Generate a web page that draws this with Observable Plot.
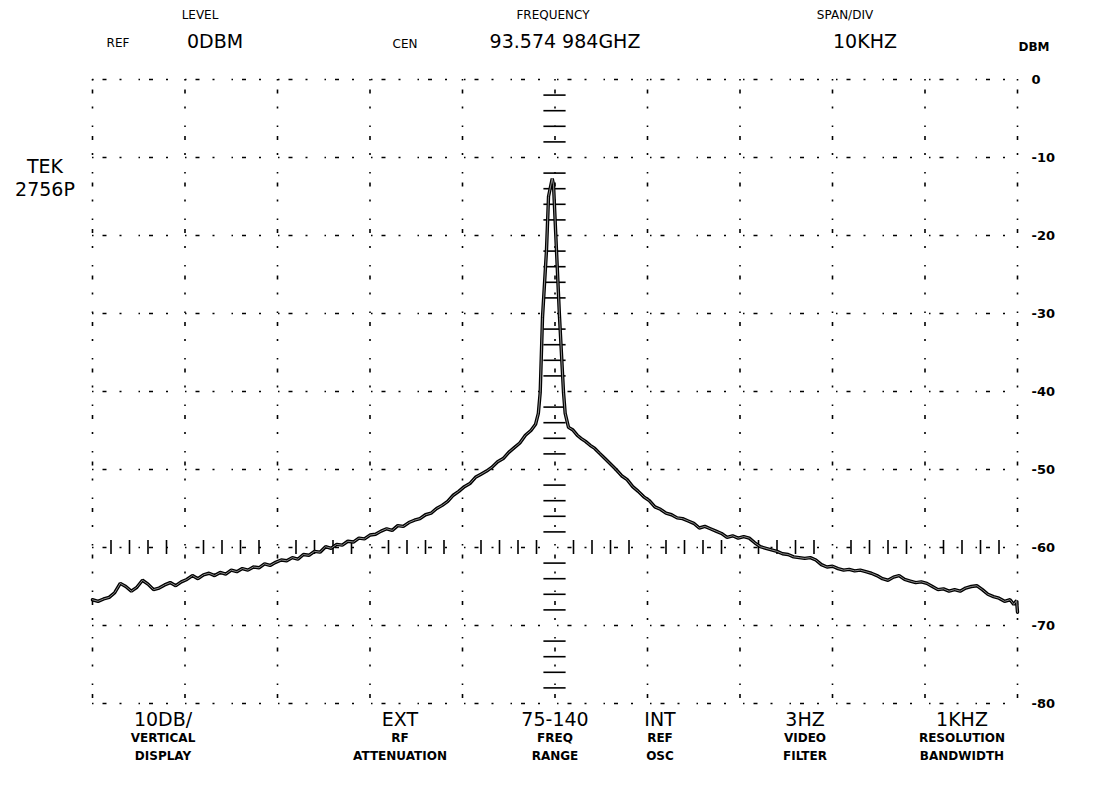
<!DOCTYPE html>
<html><head><meta charset="utf-8">
<script src="https://cdn.jsdelivr.net/npm/d3@7"></script>
<script src="https://cdn.jsdelivr.net/npm/@observablehq/plot@0.6"></script>
<style>
body{margin:0;background:#fff;}
#wrap{position:relative;width:1094px;height:785px;font-family:"DejaVu Sans",sans-serif;color:#000;overflow:hidden;}
#wrap svg{position:absolute;left:0;top:0;}
.t{position:absolute;transform:translate(-50%,-50%);white-space:nowrap;line-height:1;}
.s{font-size:12px;}
.b{font-size:12px;font-weight:bold;}
.l{font-size:19px;}
g[aria-label="y-axis tick label"] text{font-weight:bold;}
</style></head><body><div id="wrap"></div>
<script>
// ---- data ----
const gridFreq = [-50,-40,-30,-20,-10,0,10,20,30,40,50];          // kHz offset from centre
const gridDb = [0,-10,-20,-30,-40,-50,-60,-70,-80];               // dBm
const minorDb = [-2,-4,-6,-8,-12,-14,-16,-18,-22,-24,-26,-28,-32,-34,-36,-38,-42,-44,-46,-48,-52,-54,-56,-58,-62,-64,-66,-68,-72,-74,-76,-78];
const minorFreq = [-48,-46,-44,-42,-38,-36,-34,-32,-28,-26,-24,-22,-18,-16,-14,-12,-8,-6,-4,-2,2,4,6,8,12,14,16,18,22,24,26,28,32,34,36,38,42,44,46,48];
const dbLabels = [0,-10,-20,-30,-40,-50,-60,-70,-80];
// trace: [kHz offset, dBm]
const trace = [
[-50.0,-66.7],[-49.4,-66.9],[-48.8,-66.6],[-48.2,-66.4],[-47.6,-65.8],[-47.0,-64.6],[-46.4,-65.0],[-45.8,-65.6],
[-45.2,-65.1],[-44.6,-64.2],[-44.0,-64.7],[-43.4,-65.4],[-42.8,-65.2],[-42.2,-64.8],[-41.6,-64.5],[-41.0,-64.9],
[-40.4,-64.4],[-39.8,-64.1],[-39.2,-63.6],[-38.6,-64.0],[-38.0,-63.5],[-37.4,-63.3],[-36.8,-63.6],[-36.2,-63.2],
[-35.6,-63.4],[-35.0,-62.9],[-34.4,-63.1],[-33.8,-62.7],[-33.2,-62.9],[-32.6,-62.5],[-32.0,-62.6],[-31.4,-62.1],
[-30.8,-62.3],[-30.2,-61.9],[-29.6,-61.6],[-29.0,-61.7],[-28.4,-61.3],[-27.8,-61.5],[-27.2,-60.9],[-26.6,-61.0],
[-26.0,-60.5],[-25.4,-60.6],[-24.8,-59.9],[-24.2,-60.1],[-23.6,-59.6],[-23.0,-59.7],[-22.4,-59.2],[-21.8,-59.3],
[-21.2,-58.8],[-20.6,-58.9],[-20.0,-58.4],[-19.4,-58.3],[-18.8,-57.9],[-18.2,-57.6],[-17.6,-57.8],[-17.0,-57.2],
[-16.4,-57.3],[-15.8,-56.8],[-15.2,-56.5],[-14.6,-56.3],[-14.0,-55.8],[-13.4,-55.6],[-12.8,-55.0],[-12.2,-54.6],
[-11.6,-54.1],[-11.0,-53.3],[-10.4,-52.8],[-9.8,-52.2],[-9.2,-51.8],[-8.6,-51.0],[-8.0,-50.6],[-7.4,-50.2],
[-6.8,-49.7],[-6.2,-49.0],[-5.6,-48.6],[-5.0,-47.8],[-4.4,-47.2],[-3.8,-46.6],[-3.2,-45.6],[-2.6,-45.0],
[-2.1,-44.2],[-1.8,-42.8],[-1.6,-40.1],[-1.35,-30.5],[-0.92,-21.9],[-0.7,-15.0],[-0.3,-12.7],[-0.16,-13.5],
[0.16,-21.9],[0.49,-30.5],[0.92,-40.1],[1.1,-42.8],[1.46,-44.6],
[1.9,-44.9],[2.4,-45.6],[2.8,-46.0],[3.3,-46.4],[3.8,-46.9],[4.3,-47.3],[4.8,-47.9],[5.4,-48.6],
[6.0,-49.3],[6.6,-50.0],[7.2,-50.8],[7.8,-51.3],[8.4,-52.2],[9.0,-52.8],[9.6,-53.5],[10.2,-54.0],
[10.8,-54.8],[11.4,-55.1],[12.0,-55.6],[12.6,-55.8],[13.2,-56.2],[13.8,-56.3],[14.4,-56.6],[15.0,-56.9],
[15.6,-57.5],[16.2,-57.3],[16.8,-57.6],[17.4,-57.9],[18.0,-58.2],[18.6,-58.7],[19.2,-58.5],[19.8,-58.8],
[20.4,-58.6],[21.0,-58.8],[21.6,-59.4],[22.2,-59.9],[22.8,-60.1],[23.4,-60.3],[24.0,-60.5],[24.6,-60.8],
[25.2,-60.9],[25.8,-61.2],[26.4,-61.3],[27.0,-61.4],[27.6,-61.3],[28.2,-61.6],[28.8,-62.2],[29.4,-62.5],
[30.0,-62.4],[30.6,-62.7],[31.2,-62.9],[31.8,-62.8],[32.4,-63.0],[33.0,-62.9],[33.6,-63.1],[34.2,-63.3],
[34.8,-63.6],[35.4,-64.0],[36.0,-64.2],[36.6,-63.8],[37.2,-63.6],[37.8,-64.1],[38.4,-64.3],[39.0,-64.5],
[39.6,-64.4],[40.2,-64.6],[40.8,-65.0],[41.4,-65.4],[42.0,-65.3],[42.6,-65.6],[43.2,-65.4],[43.8,-65.6],
[44.4,-65.2],[45.0,-65.0],[45.6,-64.9],[46.2,-65.4],[46.8,-66.0],[47.4,-66.3],[48.0,-66.5],[48.6,-66.9],
[49.2,-66.7],[49.6,-67.3],[49.9,-66.8],[50.0,-68.3]
];
// header / footer texts
const headerTop = ["LEVEL","FREQUENCY","SPAN/DIV"];
const headerValues = ["REF","0DBM","CEN","93.574 984GHZ","10KHZ"];
const unitLabel = "DBM";
const modelLabel = ["TEK","2756P"];
const footValues = ["10DB/","EXT","75-140","INT","3HZ","1KHZ"];
const footLine2 = ["VERTICAL","RF","FREQ","REF","VIDEO","RESOLUTION"];
const footLine3 = ["DISPLAY","ATTENUATION","RANGE","OSC","FILTER","BANDWIDTH"];

// ---- chart ----
const dash = "1.5 9 4 13 2 17";
const plot = Plot.plot({
  width: 1094, height: 785,
  marginLeft: 92, marginRight: 77, marginTop: 79, marginBottom: 82,
  style: {fontFamily: '"DejaVu Sans", sans-serif', background: "transparent"},
  x: {domain: [-50, 50], axis: null},
  y: {domain: [-80, 0], axis: null},
  marks: [
    Plot.ruleX(gridFreq, {stroke: "#000", strokeWidth: 1.6, strokeDasharray: dash}),
    Plot.ruleY(gridDb, {stroke: "#000", strokeWidth: 1.6, strokeDasharray: dash}),
    Plot.ruleY(minorDb, {x1: -1.2, x2: 1.2, stroke: "#000", strokeWidth: 1.6}),
    Plot.ruleX(minorFreq, {y1: -59.1, y2: -60.9, stroke: "#000", strokeWidth: 1.6}),
    Plot.line(trace, {x: d => d[0], y: d => d[1], stroke: "#000", strokeWidth: 3.4, strokeLinejoin: "miter"}),
    Plot.line(trace, {x: d => d[0], y: d => d[1], stroke: "#8c8c8c", strokeWidth: 1}),
    Plot.axisY(dbLabels, {anchor: "right", tickSize: 0, tickPadding: 14, fontSize: 13, tickFormat: d => String(d)})
  ]
});
const wrap = document.getElementById("wrap");
wrap.appendChild(plot);

function put(txt, x, y, cls) {
  const d = document.createElement("div");
  d.className = "t " + cls;
  d.style.left = x + "px"; d.style.top = y + "px";
  d.textContent = txt;
  wrap.appendChild(d);
}
[200, 553, 845].forEach((x, i) => put(headerTop[i], x, 15, "s"));
put(headerValues[0], 118, 43, "s");
put(headerValues[1], 215, 41, "l");
put(headerValues[2], 405, 44, "s");
put(headerValues[3], 565, 41, "l");
put(headerValues[4], 865, 41, "l");
put(unitLabel, 1034, 47, "b");
put(modelLabel[0], 45, 166, "l");
put(modelLabel[1], 45, 189, "l");
const fx = [163, 400, 555, 660, 805, 962];
fx.forEach((x, i) => {
  put(footValues[i], x, 719, "l");
  put(footLine2[i], x, 738, "b");
  put(footLine3[i], x, 756, "b");
});
</script></body></html>
